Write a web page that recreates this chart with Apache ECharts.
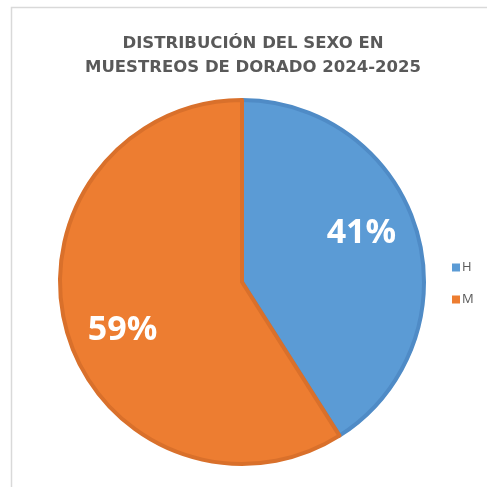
<!DOCTYPE html>
<html><head><meta charset="utf-8">
<script src="https://cdn.jsdelivr.net/npm/echarts@6/dist/echarts.min.js"></script>
<style>html,body{margin:0;padding:0;background:#fff}#c{width:487px;height:487px}</style>
</head><body><div id="c"></div>
<script>
const titleLines = ['DISTRIBUCIÓN DEL SEXO EN', 'MUESTREOS DE DORADO 2024-2025'];
const categories = ['H', 'M'];
const values = [41, 59];
const colors = ['#5B9BD5', '#ED7D31'];
const borders = ['#4F8BC6', '#D9702B'];

const chart = echarts.init(document.getElementById('c'), null, {renderer: 'canvas'});
const center = [242, 282];
chart.setOption({
  animation: false,
  graphic: [{type: 'rect', shape: {x: 11.5, y: 7.5, width: 520, height: 520}, style: {fill: 'none', stroke: '#d9d9d9', lineWidth: 1.5}, z: -1}],
  title: {
    text: titleLines.join('\n'), left: 248, top: 27, textAlign: 'center',
    textStyle: {fontFamily: 'DejaVu Sans', fontWeight: 'bold', fontSize: 16.5, color: '#595959', lineHeight: 24}
  },
  legend: {
    orient: 'vertical', left: 447, top: 256, itemWidth: 8, itemHeight: 8, itemGap: 19,
    icon: 'rect', data: categories, itemStyle: {borderWidth: 0},
    textStyle: {fontFamily: 'Open Sans', fontSize: 13, color: '#595959', padding: [0,0,0,-3]}
  },
  series: [{
    type: 'pie', center: center, radius: [0, 182], startAngle: 90, clockwise: true,
    label: {show: false}, labelLine: {show: false}, silent: true,
    data: categories.map((n, i) => ({name: n, value: values[i],
      itemStyle: {color: colors[i], borderColor: borders[i], borderWidth: 4}}))
  }, {
    type: 'pie', center: center, radius: [76, 176], startAngle: 96, clockwise: true,
    silent: true, labelLine: {show: false},
    label: {show: true, position: 'inside', formatter: '{d}%', fontFamily: 'Open Sans', fontWeight: 'bold', fontSize: 34, color: '#fff'},
    itemStyle: {color: 'rgba(0,0,0,0)', borderWidth: 0},
    data: categories.map((n, i) => ({name: n, value: values[i]}))
  }]
});
</script></body></html>
